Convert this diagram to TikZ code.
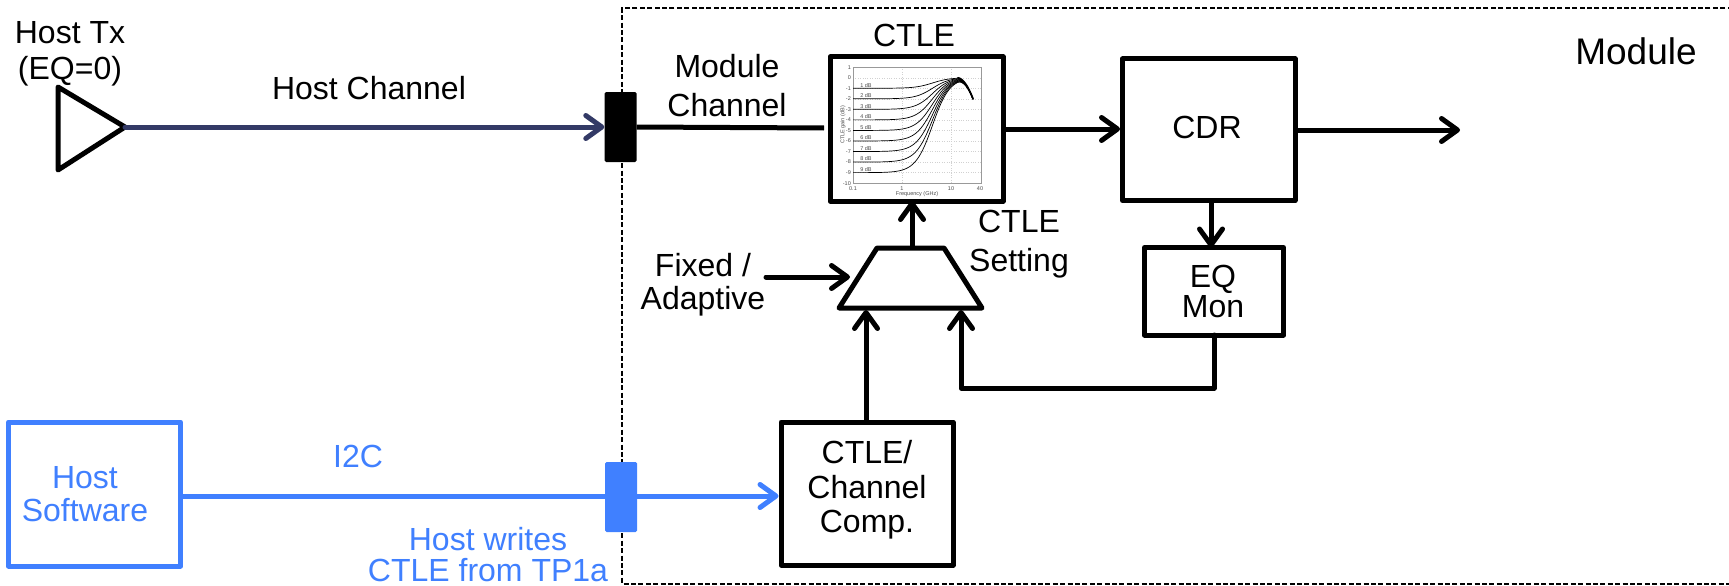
\documentclass[tikz,border=0pt]{standalone}
\usepackage{fontspec}
\setmainfont{Liberation Sans}
\usetikzlibrary{arrows.meta,calc}
\definecolor{hostblue}{RGB}{64,128,255}
\definecolor{hostdark}{RGB}{51,58,102}
\tikzset{
  x=1pt,y=-1pt,
  barb/.tip={Straight Barb[length=16pt,width=23pt,line width=5pt,round]},
  box/.style={draw=black,line width=5pt,line join=round,inner sep=0pt,fill=white},
  bluebox/.style={box,draw=hostblue},
  conn/.style={line width=5pt,-{barb},line cap=round,line join=round},
  plainconn/.style={line width=5pt,line cap=butt},
  port/.style={rounded corners=1.5pt,inner sep=0pt,minimum width=32pt},
  txt/.style={inner sep=0pt,align=center,font=\fontsize{32}{34}\selectfont},
  bluetxt/.style={txt,text=hostblue},
  tiny/.style={inner sep=0pt,font=\fontsize{5.5}{6}\selectfont,text=black!70},
}
\begin{document}
\begin{tikzpicture}
\useasboundingbox (0,0) rectangle (1729,586);
\clip (0,0) rectangle (1729,586);
\fill[white] (0,0) rectangle (1729,586);
% module outline
\draw[line width=2pt,dash pattern=on 5pt off 2.4pt] (1740,8.5) -- (622,8.5) -- (622,583.5) -- (1740,583.5);
% nodes
\node[port,fill=black,minimum height=70pt] (portA) at (620.5,127) {};
\node[port,fill=hostblue,minimum height=70pt] (portB) at (621,497) {};
\node[box,minimum width=173pt,minimum height=144pt] (ctle) at (916.5,129) {};
\node[box,minimum width=172.5pt,minimum height=141.5pt] (cdr) at (1208.75,129.75) {};
\node[box,minimum width=139pt,minimum height=87.5pt] (eqmon) at (1214,291.25) {};
\node[box,minimum width=172pt,minimum height=143pt] (comp) at (867,493.5) {};
\node[bluebox,minimum width=172pt,minimum height=144pt] (hostsw) at (94.5,494) {};
% transmitter and mux
\coordinate (txtip) at (125,127);
\draw[line width=5pt,line join=round] (58,87) -- (txtip) -- (58,170) -- cycle;
\coordinate (muxTL) at (877,248);
\coordinate (muxTR) at (944,248);
\coordinate (muxBR) at (982,308);
\coordinate (muxBL) at (839,308);
\draw[line width=5pt,line join=round] (muxTL) -- (muxTR) -- (muxBR) -- (muxBL) -- cycle;
% free ends
\coordinate (outEnd) at (1460,130);
\coordinate (fixedStart) at (766,277);
\coordinate (fixedEnd) at (850,277);
\coordinate (fbCorner1) at (1214,388);
\coordinate (fbCorner2) at (961,388);
% connectors
\draw[conn,hostdark] (txtip) -- (portA.west |- txtip);
\draw[plainconn] (portA.east |- 0,127) -- (824,128);
\draw[plainconn,hostblue] (hostsw.east |- 0,496) -- (portB.west |- 0,496);
\draw[conn,hostblue,line cap=butt] (portB.east |- 0,496) -- (comp.west |- 0,496);
\draw[conn,line cap=butt] (ctle.east |- 0,129) -- (cdr.west |- 0,129);
\draw[conn,line cap=butt] (cdr.east |- outEnd) -- (outEnd);
\draw[conn,line cap=butt] (1211,200.5) -- (1211,247.5);
\draw[conn,line cap=butt] (912,248) -- (912,201);
\draw[conn] (fixedStart) -- (fixedEnd);
\draw[conn,line cap=butt] (866,422) -- (866,310);
\draw[conn] (eqmon.south |- 0,335) -- (fbCorner1) -- (fbCorner2) -- (961,310);
% chart inside CTLE block
\begin{scope}
  \foreach \v in {0,...,9} \draw[black!18,line width=.4pt,dotted] (853,{77.7+10.55*\v}) -- (981,{77.7+10.55*\v});
  \foreach \u in {0,1} \draw[black!18,line width=.4pt,dotted] ({902+49*\u},67) -- ({902+49*\u},183);
  \draw[black!40,line width=.5pt] (853,67) rectangle (981,183);
  \foreach \n in {1,...,9} {
    \draw[black,line width=.7pt] plot[domain=-1:1.449,samples=70,smooth]
      ({853+49*(\x+1)},{77.7+10.55*(\n/(1+pow(10,2.5*(\x-0.623)))+2*pow(max(0,\x-1.12)/0.33,2))});
    \node[tiny] at (866,{74.5+10.55*\n}) {\n{} dB};
  }
  \draw[black,line width=1.6pt,line cap=round] plot[domain=1.14:1.449,samples=20,smooth]
      ({853+49*(\x+1)},{77.7+10.55*(2*pow(max(0,\x-1.12)/0.33,2))});
  \foreach \v/\t in {-1/1,0/0,1/-1,2/-2,3/-3,4/-4,5/-5,6/-6,7/-7,8/-8,9/-9,10/-10}
    \node[tiny,anchor=east] at (851,{77.7+10.55*\v}) {\t};
  \node[tiny] at (853,189) {0.1};
  \node[tiny] at (902,189) {1};
  \node[tiny] at (951,189) {10};
  \node[tiny] at (980,189) {40};
  \node[tiny] at (917,194) {Frequency (GHz)};
  \node[tiny,rotate=90] at (843,125) {CTLE gain (dB)};
\end{scope}
% labels
\node[txt,font=\fontsize{32}{36}\selectfont] (lbltx) at (70,54) {Host Tx\\(EQ=0)};
\node[txt] (lblhc) at (369,88) {Host Channel};
\node[txt,font=\fontsize{32}{39}\selectfont] (lblmc) at (727,86) {Module\\Channel};
\node[txt] (lblctle) at (914,35) {CTLE};
\node[txt] (lblcdr) at (1207,127) {CDR};
\node[txt,font=\fontsize{37}{40}\selectfont] (lblmod) at (1636,51) {Module};
\node[txt,font=\fontsize{32}{39}\selectfont] (lblset) at (1019,244.5) {CTLE\\Setting};
\node[txt,font=\fontsize{32}{33}\selectfont] (lblfix) at (703,284.5) {Fixed /\\Adaptive};
\node[txt,font=\fontsize{32}{30}\selectfont] (lbleq) at (1213,291) {EQ\\Mon};
\node[txt,font=\fontsize{32}{34.5}\selectfont] (lblcomp) at (867,490) {CTLE/\\Channel\\Comp.};
\node[bluetxt,font=\fontsize{32}{33}\selectfont] (lblsw) at (85,494) {Host\\Software};
\node[bluetxt] (lblic) at (358,456) {I2C};
\node[bluetxt,font=\fontsize{32}{31}\selectfont] (lblwr) at (488,555) {Host writes\\CTLE from TP1a};
\end{tikzpicture}
\end{document}
